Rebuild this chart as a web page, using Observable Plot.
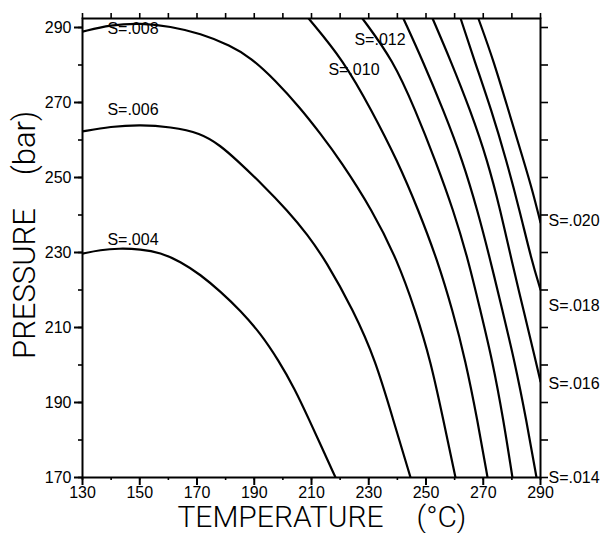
<!DOCTYPE html>
<html>
<head>
<meta charset="utf-8">
<script src="https://cdn.jsdelivr.net/npm/d3@7"></script>
<script src="https://cdn.jsdelivr.net/npm/@observablehq/plot@0.6"></script>
<style>
  body { margin: 0; background: #fff; }
  svg { display: block; }
</style>
</head>
<body>
<div id="chart"></div>
<script>
// Iso-S curves: temperature (°C) and pressure (bar)
const s004T = [130.0, 136.3, 142.6, 150.3, 157.2, 164.2, 171.2, 178.2, 185.2, 192.2, 198.5, 204.1, 209.3, 213.8, 218.4];
const s004P = [229.7, 230.7, 231.1, 230.9, 230.0, 227.6, 224.1, 219.6, 214.5, 208.4, 201.2, 193.7, 185.2, 177.7, 170.0];

const s006T = [130.0, 139.8, 150.3, 160.7, 171.2, 178.2, 184.1, 192.9, 201.6, 208.6, 214.9, 224.7, 232.4, 238.6, 244.6];
const s006P = [262.3, 263.6, 264.1, 263.5, 261.9, 258.5, 254.5, 248.1, 241.2, 234.8, 227.9, 214.5, 201.2, 185.2, 170.0];

const s008T = [130.0, 139.8, 150.3, 160.7, 171.2, 181.7, 188.7, 197.4, 206.2, 213.1, 220.1, 231.3, 240.0, 246.3, 251.6, 256.1, 260.3];
const s008P = [288.9, 290.7, 291.2, 290.3, 288.4, 285.2, 282.0, 275.9, 268.4, 261.7, 254.5, 241.2, 227.9, 214.5, 201.2, 185.2, 170.0];

const s010T = [209.0, 221.2, 231.0, 240.0, 247.4, 254.0, 259.3, 263.8, 268.0, 271.5];
const s010P = [292.4, 281.2, 267.9, 254.5, 241.2, 227.9, 214.5, 201.2, 185.2, 170.0];

const s012T = [227.8, 238.6, 246.3, 253.3, 259.6, 264.8, 269.0, 273.2, 277.1, 280.2];
const s012P = [292.4, 281.2, 267.9, 254.5, 241.2, 227.9, 214.5, 201.2, 185.2, 170.0];

const s014T = [242.1, 248.8, 256.1, 262.8, 268.0, 272.5, 276.7, 280.9, 285.1, 288.6];
const s014P = [292.4, 281.2, 267.9, 254.5, 241.2, 227.9, 214.5, 201.2, 185.2, 170.0];

const s016T = [252.3, 258.6, 265.5, 271.5, 276.0, 279.9, 284.1, 288.3, 290.0];
const s016P = [292.4, 281.2, 267.9, 254.5, 241.2, 227.9, 214.5, 201.2, 195.6];

const s018T = [262.1, 266.9, 272.9, 278.1, 282.7, 286.9, 290.0];
const s018P = [292.4, 281.2, 267.9, 254.5, 241.2, 227.9, 220.1];

const s020T = [268.3, 273.6, 278.8, 284.1, 287.2, 290.0];
const s020P = [292.4, 281.2, 267.9, 254.5, 246.5, 238.0];

// Curve labels and their anchor points (data coordinates)
const labelText = ["S=.008", "S=.006", "S=.004", "S=.012", "S=.010", "S=.020", "S=.018", "S=.016", "S=.014"];
const labelT    = [138.7, 138.7, 138.7, 225.0, 215.9, 292.8, 292.8, 292.8, 292.8];
const labelP    = [289.7, 268.1, 233.5, 286.8, 278.8, 238.5, 215.9, 195.1, 170.0];

// Axis ticks
const xMajor = [130, 150, 170, 190, 210, 230, 250, 270, 290];
const xAll   = [130, 140, 150, 160, 170, 180, 190, 200, 210, 220, 230, 240, 250, 260, 270, 280, 290];
const yMajor = [170, 190, 210, 230, 250, 270, 290];
const yAll   = [170, 180, 190, 200, 210, 220, 230, 240, 250, 260, 270, 280, 290];

const xTitle = "TEMPERATURE";
const xUnit  = "(°C)";
const yTitle = "PRESSURE";
const yUnit  = "(bar)";

const series = [
  ["S=.004", s004T, s004P], ["S=.006", s006T, s006P], ["S=.008", s008T, s008P],
  ["S=.010", s010T, s010P], ["S=.012", s012T, s012P], ["S=.014", s014T, s014P],
  ["S=.016", s016T, s016P], ["S=.018", s018T, s018P], ["S=.020", s020T, s020P]
];
const table = series.flatMap(([s, T, P]) => T.map((t, i) => ({S: s, T: t, P: P[i]})));
const labels = labelText.map((t, i) => ({text: t, T: labelT[i], P: labelP[i]}));

const tickFont = "'Liberation Sans', Arial, sans-serif";
const titleFont = "Roboto, 'DejaVu Sans', sans-serif";

const chart = Plot.plot({
  width: 602,
  height: 533,
  marginLeft: 82,
  marginRight: 62,
  marginTop: 18,
  marginBottom: 56,
  style: {background: "#fff", color: "#000"},
  x: {domain: [130, 290]},
  y: {domain: [170, 292.4]},
  marks: [
    Plot.line(table, {x: "T", y: "P", z: "S", curve: "basis", stroke: "#000", strokeWidth: 2.2, clip: true}),
    Plot.frame({stroke: "#000", strokeWidth: 2}),
    // left axis
    Plot.axisY({ticks: yMajor, tickSize: 8, tickPadding: 3, fontSize: 16, fontFamily: tickFont, label: null, strokeWidth: 2}),
    Plot.axisY({ticks: yAll, tickSize: 4, fill: "none", label: null, strokeWidth: 1.6}),
    // right axis
    Plot.axisY({anchor: "right", ticks: yAll, tickSize: 7, fill: "none", label: null, strokeWidth: 1.6}),
    // top axis
    Plot.axisX({anchor: "top", ticks: xAll, tickSize: 6, fill: "none", label: null, strokeWidth: 1.6}),
    // bottom axis
    Plot.axisX({anchor: "bottom", ticks: xMajor, tickSize: 8, tickPadding: 1, fontSize: 16, fontFamily: tickFont, label: null, strokeWidth: 2}),
    Plot.axisX({anchor: "bottom", ticks: xAll, tickSize: 3, fill: "none", label: null, strokeWidth: 1.6}),
    // curve labels
    Plot.text(labels, {x: "T", y: "P", text: "text", textAnchor: "start", lineAnchor: "middle", fontSize: 16, fontFamily: tickFont, fill: "#000"}),
    // axis titles
    Plot.text([xTitle], {frameAnchor: "bottom", textAnchor: "middle", dx: -31, dy: 40, lineAnchor: "middle", fontSize: 30, fontWeight: 300, fontFamily: titleFont, fill: "#000"}),
    Plot.text([xUnit], {frameAnchor: "bottom", textAnchor: "middle", dx: 130, dy: 40, lineAnchor: "middle", fontSize: 30, fontWeight: 300, fontFamily: titleFont, fill: "#000"}),
    Plot.text([yTitle], {frameAnchor: "left", textAnchor: "middle", dx: -57, dy: 35.5, rotate: -90, lineAnchor: "middle", fontSize: 31, fontWeight: 300, fontFamily: titleFont, fill: "#000"}),
    Plot.text([yUnit], {frameAnchor: "left", textAnchor: "middle", dx: -57, dy: -105, rotate: -90, lineAnchor: "middle", fontSize: 31, fontWeight: 300, fontFamily: titleFont, fill: "#000"})
  ]
});
document.getElementById("chart").appendChild(chart);
</script>
</body>
</html>
